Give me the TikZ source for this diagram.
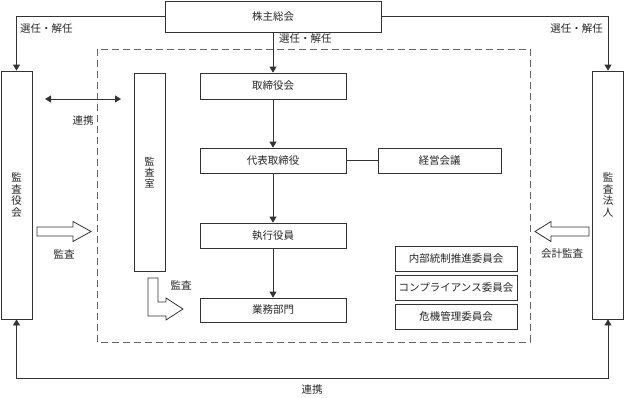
\documentclass[tikz,border=0pt]{standalone}
\usepackage{fontspec}
\setmainfont{Noto Sans CJK JP}
\usetikzlibrary{arrows.meta}
\begin{document}
\begin{tikzpicture}[x=1pt,y=-1pt,
  every node/.style={font=\fontsize{10.5}{13.5}\selectfont, text=black!85},
  box/.style={draw=black!80, line width=0.8pt, fill=white, inner sep=0pt, align=center},
  vbox/.style={box, font=\fontsize{10.5}{11.8}\selectfont},
  conn/.style={draw=black!80, line width=0.8pt},
  arr/.style={conn, -{Triangle[length=6pt,width=7pt]}},
  darr/.style={conn, {Triangle[length=6pt,width=7pt]}-{Triangle[length=6pt,width=7pt]}},
  blockarrow/.style={draw=black!80, line width=0.8pt, fill=white},
  lbl/.style={inner sep=0pt}]
\useasboundingbox (0,0) rectangle (624,397);
% dashed area
\draw[black!60, line width=0.9pt, dash pattern=on 7pt off 4pt] (97,49) rectangle (530,342);
% boxes
\node[box, minimum width=216pt, minimum height=31pt] (kabu) at (273,16.5) {株主総会};
\node[vbox, minimum width=31pt, minimum height=248pt] (kansayaku) at (16.5,195) {監\\査\\役\\会};
\node[vbox, minimum width=31pt, minimum height=248pt] (hojin) at (608,195) {監\\査\\法\\人};
\node[vbox, font=\fontsize{10}{10.8}\selectfont, minimum width=31pt, minimum height=198pt, anchor=north] (shitsu) at (149.5,73) {監\\査\\室};
\node[box, minimum width=146pt, minimum height=26pt] (torikai) at (273,86) {取締役会};
\node[box, minimum width=146pt, minimum height=25pt] (daihyo) at (273,160.5) {代表取締役};
\node[box, minimum width=123pt, minimum height=25pt] (keiei) at (439.5,160.5) {経営会議};
\node[box, minimum width=146pt, minimum height=25pt] (shikko) at (273,235.5) {執行役員};
\node[box, minimum width=146pt, minimum height=24pt] (gyomu) at (273,310) {業務部門};
\node[box, minimum width=122pt, minimum height=25pt] (naibu) at (456,258.5) {内部統制推進委員会};
\node[box, minimum width=122pt, minimum height=25pt] (comp) at (456,287.5) {コンプライアンス委員会};
\node[box, minimum width=122pt, minimum height=25pt] (kiki) at (456,316.5) {危機管理委員会};
% connectors
\draw[arr] (kabu.west) -| (kansayaku.north);
\draw[arr] (kabu.east) -| (hojin.north);
\draw[arr] (kabu.south) -- (torikai.north);
\draw[arr] (torikai.south) -- (daihyo.north);
\draw[arr] (daihyo.south) -- (shikko.north);
\draw[arr] (shikko.south) -- (gyomu.north);
\draw[conn] (daihyo.east) -- (keiei.west);
\coordinate (bl) at (16.5,378);
\draw[darr] (kansayaku.south) -- (bl) -| (hojin.south);
\coordinate (ra) at (45,99);
\coordinate (rb) at (121,99);
\draw[darr] (ra) -- (rb);
% labels
\node[lbl, anchor=west] (l1) at (20,29) {選任・解任};
\node[lbl, anchor=east] (l2) at (603,29) {選任・解任};
\node[lbl, anchor=west] (l3) at (279,39) {選任・解任};
\node[lbl] (l4) at (83,121) {連携};
\node[lbl] (l5) at (312,390) {連携};
\node[lbl] (l6) at (64,254) {監査};
\node[lbl] (l7) at (562,254) {会計監査};
\node[lbl] (l8) at (181,285) {監査};
% block arrows
\draw[blockarrow] (37,227) -- (73,227) -- (73,221.5) -- (91,231.5) -- (73,241.5) -- (73,236) -- (37,236) -- cycle;
\draw[blockarrow] (589,227) -- (551,227) -- (551,221.5) -- (535,231.5) -- (551,241.5) -- (551,236) -- (589,236) -- cycle;
\draw[blockarrow] (148,278) -- (158,278) -- (158,302) -- (166,302) -- (166,298) -- (183,309) -- (166,320) -- (166,316) -- (148,316) -- cycle;
\end{tikzpicture}
\end{document}
